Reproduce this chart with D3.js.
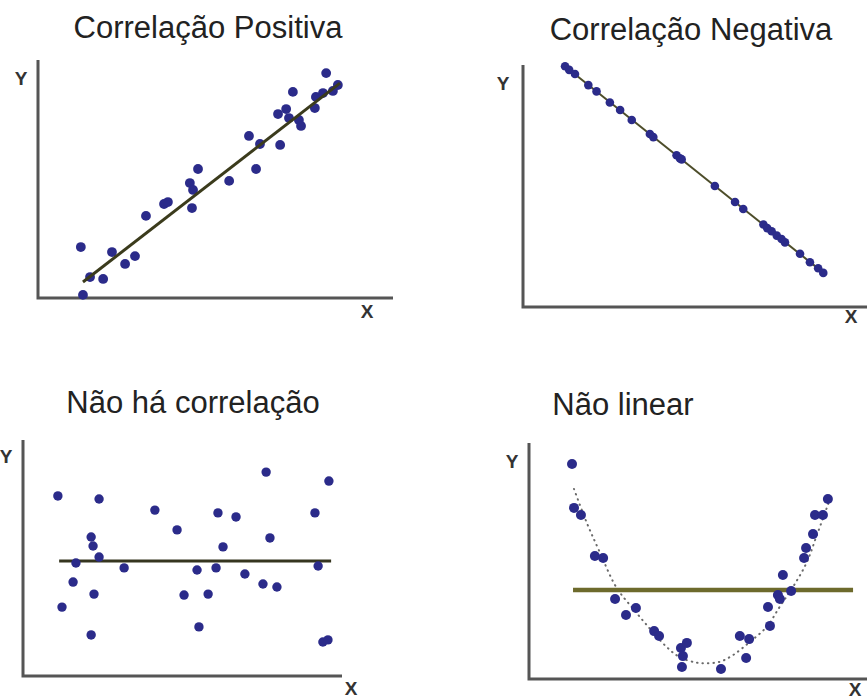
<!DOCTYPE html>
<html>
<head>
<meta charset="utf-8">
<script src="https://cdn.jsdelivr.net/npm/d3@7"></script>
<style>
  body { margin: 0; background: #fff; }
  .title { font-family: "Liberation Sans", Arial, sans-serif; font-size: 31px; fill: #222; }
  .axis-label { font-family: "Liberation Sans", Arial, sans-serif; font-size: 19px; font-weight: bold; fill: #333; }
</style>
</head>
<body>
<svg id="chart"></svg>
<script>
// values, both axes in arbitrary 0-10 units
const titles = ["Correlação Positiva", "Correlação Negativa", "Não há correlação", "Não linear"];

const posX = [1.21, 1.27, 1.47, 1.84, 2.09, 2.46, 2.74, 3.05, 3.56, 3.67, 4.29, 4.38, 4.35, 4.52, 5.40, 5.96,
              6.27, 6.16, 6.78, 7.01, 7.20, 6.84, 7.09, 7.37, 7.43, 7.82, 7.85, 8.05, 8.14, 8.33, 8.47];
const posY = [2.14, 0.13, 0.88, 0.80, 1.93, 1.43, 1.76, 3.45, 3.95, 4.03, 4.83, 4.54, 3.78, 5.42, 4.92, 6.81,
              6.47, 5.42, 7.73, 7.94, 8.66, 6.43, 7.56, 7.48, 7.23, 7.98, 8.45, 8.61, 9.45, 8.70, 8.95];
const posFitX = [1.27, 8.53];
const posFitY = [0.67, 9.03];

const negX = [1.23, 1.35, 1.52, 1.91, 2.15, 2.54, 2.84, 3.18, 3.71, 3.81, 4.49, 4.59, 4.64,
              5.61, 6.20, 6.44, 7.03, 7.14, 7.27, 7.42, 7.56, 7.66, 8.10, 8.39, 8.63, 8.78];
const negY = [9.95, 9.80, 9.63, 9.17, 8.91, 8.45, 8.14, 7.73, 7.15, 7.02, 6.27, 6.14, 6.10,
              5.00, 4.34, 4.05, 3.41, 3.26, 3.13, 2.95, 2.81, 2.67, 2.20, 1.85, 1.60, 1.41];
const negFitX = [1.18, 8.78];
const negFitY = [10.0, 1.42];

const noneX = [1.10, 2.40, 4.16, 7.67, 9.65, 6.15, 6.72, 9.21, 4.86, 7.79, 2.15, 2.21, 2.40, 6.31, 1.67, 3.19,
               5.49, 6.09, 9.31, 7.00, 1.58, 7.57, 8.01, 2.24, 5.08, 5.84, 1.23, 5.55, 2.15, 9.46, 9.62];
const noneY = [7.63, 7.50, 7.03, 8.64, 8.26, 6.91, 6.74, 6.91, 6.19, 5.85, 5.89, 5.51, 5.04, 5.47, 4.79, 4.58,
               4.49, 4.58, 4.66, 4.32, 3.98, 3.90, 3.77, 3.47, 3.43, 3.47, 2.92, 2.08, 1.74, 1.44, 1.53];
const noneFitX = [1.14, 9.72];
const noneFitY = [4.87, 4.87];

const curvX = [1.30, 1.36, 1.57, 1.99, 2.24, 2.60, 2.93, 3.23, 3.78, 3.93, 4.59, 4.77, 4.65, 4.62, 5.80,
               6.37, 6.65, 6.56, 7.22, 7.28, 7.52, 7.58, 7.67, 7.92, 8.31, 8.37, 8.58, 8.64, 8.88, 9.03];
const curvY = [9.11, 7.25, 6.95, 5.21, 5.13, 3.39, 2.71, 3.01, 2.03, 1.82, 1.31, 1.53, 0.97, 0.51, 0.42,
               1.82, 1.69, 0.89, 3.05, 2.25, 3.56, 3.39, 4.41, 3.73, 5.13, 5.55, 6.14, 6.95, 6.95, 7.63];
const curvFitX = [1.33, 9.79];
const curvFitY = [3.77, 3.77];
// dotted trend through the U shape
const trendX = [1.36, 1.74, 2.14, 2.64, 3.15, 3.66, 4.17, 4.56, 5.07, 5.37, 5.77, 6.17, 6.68, 7.18, 7.58, 7.98, 8.39, 8.69, 9.04];
const trendY = [8.05, 6.64, 5.37, 3.88, 2.97, 2.12, 1.34, 0.92, 0.69, 0.67, 0.73, 1.02, 1.58, 2.21, 3.07, 3.91, 4.94, 6.07, 7.42];

const zip = (xs, ys) => xs.map((x, i) => ({x: x, y: ys[i]}));

const svg = d3.select("#chart")
    .attr("width", 867)
    .attr("height", 700);

// panel layout: plotting box in pixels, plus where the axis lines and labels go
const panels = [
    {title: titles[0], titleX: 208, titleY: 38,
     box: {left: 38, right: 392, top: 60, bottom: 298}, axisTop: 60, axisRight: 393,
     yLab: [21, 85], xLab: [367, 318],
     points: zip(posX, posY), fit: zip(posFitX, posFitY), r: 4.9,
     fitColor: "#3b3b1c", fitWidth: 3, fitOnTop: true},
    {title: titles[1], titleX: 691, titleY: 40,
     box: {left: 523, right: 865, top: 65, bottom: 307}, axisTop: 65, axisRight: 867,
     yLab: [503, 90], xLab: [851, 323],
     points: zip(negX, negY), fit: zip(negFitX, negFitY), r: 4.3,
     fitColor: "#4d4d2a", fitWidth: 2},
    {title: titles[2], titleX: 193, titleY: 413,
     box: {left: 23, right: 340, top: 440, bottom: 676}, axisTop: 440, axisRight: 342,
     yLab: [6, 463], xLab: [351, 695],
     points: zip(noneX, noneY), fit: zip(noneFitX, noneFitY), r: 4.7,
     fitColor: "#35351f", fitWidth: 3},
    {title: titles[3], titleX: 623, titleY: 415,
     box: {left: 529, right: 860, top: 443, bottom: 679}, axisTop: 443, axisRight: 867,
     yLab: [512, 468], xLab: [855, 696],
     points: zip(curvX, curvY), fit: zip(curvFitX, curvFitY), r: 5,
     fitColor: "#6d6a2c", fitWidth: 4.5,
     trend: zip(trendX, trendY)}
];

panels.forEach(p => {
    const x = d3.scaleLinear().domain([0, 10]).range([p.box.left, p.box.right]);
    const y = d3.scaleLinear().domain([0, 10]).range([p.box.bottom, p.box.top]);
    const g = svg.append("g");

    g.append("text")
        .attr("class", "title")
        .attr("x", p.titleX)
        .attr("y", p.titleY)
        .attr("text-anchor", "middle")
        .text(p.title);

    // axes are just two plain grey strokes, no ticks
    g.append("path")
        .attr("d", `M${x(0)},${p.axisTop}V${y(0)}H${p.axisRight}`)
        .attr("fill", "none")
        .attr("stroke", "#555")
        .attr("stroke-width", 3);

    g.append("text").attr("class", "axis-label")
        .attr("x", p.yLab[0]).attr("y", p.yLab[1])
        .attr("text-anchor", "middle").text("Y");
    g.append("text").attr("class", "axis-label")
        .attr("x", p.xLab[0]).attr("y", p.xLab[1])
        .attr("text-anchor", "middle").text("X");

    const line = d3.line().x(d => x(d.x)).y(d => y(d.y));

    if (p.trend) {
        g.append("path")
            .attr("d", line.curve(d3.curveCatmullRom)(p.trend))
            .attr("fill", "none")
            .attr("stroke", "#6a6a6a")
            .attr("stroke-width", 2)
            .attr("stroke-linecap", "round")
            .attr("stroke-dasharray", "0.5,5");
        line.curve(d3.curveLinear);
    }

    const drawFit = () => g.append("path")
        .attr("d", line(p.fit))
        .attr("fill", "none")
        .attr("stroke", p.fitColor)
        .attr("stroke-width", p.fitWidth);

    if (!p.fitOnTop) drawFit();

    g.selectAll(".point")
        .data(p.points)
        .join("circle")
        .attr("class", "point")
        .attr("cx", d => x(d.x))
        .attr("cy", d => y(d.y))
        .attr("r", p.r)
        .attr("fill", "#2b2b8a");

    if (p.fitOnTop) drawFit();
});
</script>
</body>
</html>
